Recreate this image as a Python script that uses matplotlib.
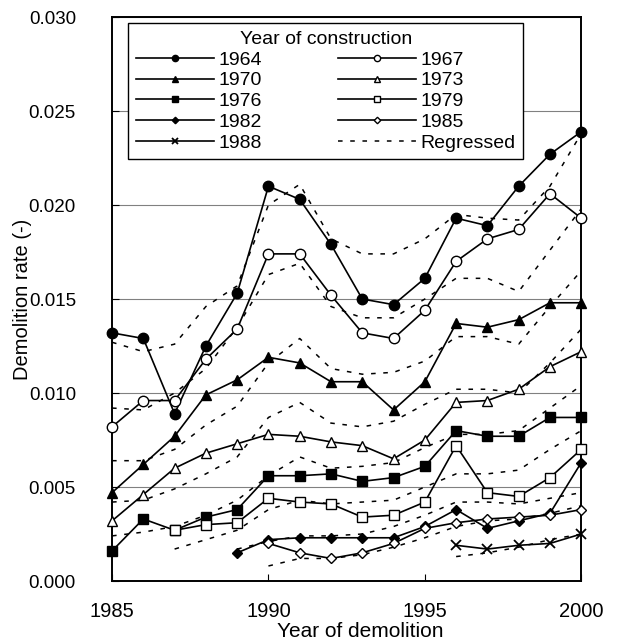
import numpy as np
import matplotlib
matplotlib.use("Agg")
import matplotlib.pyplot as plt

plt.rcParams['font.family'] = ['Liberation Sans', 'DejaVu Sans']

# observed demolition rates by year of construction
r1964 = [0.0132, 0.0129, 0.0089, 0.0125, 0.0153, 0.0210, 0.0203, 0.0179,
         0.0150, 0.0147, 0.0161, 0.0193, 0.0189, 0.0210, 0.0227, 0.0239]
r1967 = [0.0082, 0.0096, 0.0096, 0.0118, 0.0134, 0.0174, 0.0174, 0.0152,
         0.0132, 0.0129, 0.0144, 0.0170, 0.0182, 0.0187, 0.0206, 0.0193]
r1970 = [0.0047, 0.0062, 0.0077, 0.0099, 0.0107, 0.0119, 0.0116, 0.0106,
         0.0106, 0.0091, 0.0106, 0.0137, 0.0135, 0.0139, 0.0148, 0.0148]
r1973 = [0.0032, 0.0046, 0.0060, 0.0068, 0.0073, 0.0078, 0.0077, 0.0074,
         0.0072, 0.0065, 0.0075, 0.0095, 0.0096, 0.0102, 0.0114, 0.0122]
r1976 = [0.0016, 0.0033, 0.0027, 0.0034, 0.0038, 0.0056, 0.0056, 0.0057,
         0.0053, 0.0055, 0.0061, 0.0080, 0.0077, 0.0077, 0.0087, 0.0087]
r1979 = [0.0027, 0.0030, 0.0031, 0.0044, 0.0042, 0.0041,
         0.0034, 0.0035, 0.0042, 0.0072, 0.0047, 0.0045, 0.0055, 0.0070]
r1982 = [0.0015, 0.0022, 0.0023, 0.0023, 0.0023, 0.0023,
         0.0029, 0.0038, 0.0028, 0.0032, 0.0036, 0.0063]
r1985 = [0.0020, 0.0015, 0.0012, 0.0015, 0.0020,
         0.0028, 0.0031, 0.0033, 0.0034, 0.0035, 0.0038]
r1988 = [0.0019, 0.0017, 0.0019, 0.0020, 0.0025]

# regressed curves (all end in 2000)
g1964 = [0.0127, 0.0122, 0.0126, 0.0146, 0.0157, 0.0200, 0.0211, 0.0182,
         0.0174, 0.0174, 0.0182, 0.0195, 0.0193, 0.0192, 0.0210, 0.0238]
g1967 = [0.0092, 0.0091, 0.0100, 0.0113, 0.0135, 0.0163, 0.0169, 0.0146,
         0.0140, 0.0140, 0.0150, 0.0161, 0.0161, 0.0154, 0.0176, 0.0198]
g1970 = [0.0064, 0.0064, 0.0070, 0.0083, 0.0093, 0.0116, 0.0129, 0.0113,
         0.0110, 0.0111, 0.0117, 0.0130, 0.0130, 0.0126, 0.0146, 0.0165]
g1973 = [0.0042, 0.0043, 0.0049, 0.0057, 0.0066, 0.0087, 0.0095, 0.0084,
         0.0082, 0.0085, 0.0094, 0.0102, 0.0102, 0.0100, 0.0116, 0.0134]
g1976 = [0.0024, 0.0026, 0.0029, 0.0035, 0.0043, 0.0056, 0.0066, 0.0060,
         0.0061, 0.0063, 0.0071, 0.0078, 0.0078, 0.0080, 0.0092, 0.0104]
g1979 = [0.0017, 0.0022, 0.0027, 0.0038, 0.0043, 0.0041,
         0.0042, 0.0043, 0.0050, 0.0057, 0.0057, 0.0059, 0.0070, 0.0080]
g1982 = [0.0017, 0.0021, 0.0024, 0.0024, 0.0025, 0.0029,
         0.0035, 0.0042, 0.0042, 0.0041, 0.0044, 0.0047]
g1985 = [0.0008, 0.0012, 0.0012, 0.0014, 0.0018,
         0.0023, 0.0029, 0.0032, 0.0033, 0.0036, 0.0040]
g1988 = [0.0013, 0.0015, 0.0018, 0.0022, 0.0025]

series = [
    ("1964", r1964, g1964, 1985, 'o', 'k'),
    ("1967", r1967, g1967, 1985, 'o', 'w'),
    ("1970", r1970, g1970, 1985, '^', 'k'),
    ("1973", r1973, g1973, 1985, '^', 'w'),
    ("1976", r1976, g1976, 1985, 's', 'k'),
    ("1979", r1979, g1979, 1987, 's', 'w'),
    ("1982", r1982, g1982, 1989, 'D', 'k'),
    ("1985", r1985, g1985, 1990, 'D', 'w'),
    ("1988", r1988, g1988, 1996, 'x', 'k'),
]
msizes = {'o': 7.5, '^': 7.5, 's': 7, 'D': 5.5, 'x': 7.5}

fig = plt.figure(figsize=(6.19, 6.44), dpi=100)
ax = fig.add_axes([0.181, 0.0978, 0.758, 0.8758])

dash = (0, (3, 5))
reg_handle = None
for name, obs, reg, y0, m, fc in series:
    yr_r = np.arange(2001 - len(reg), 2001)
    h, = ax.plot(yr_r, reg, color='k', lw=1.1, ls=dash, zorder=2)
    reg_handle = h

handles = []
for name, obs, reg, y0, m, fc in series:
    yr = np.arange(y0, y0 + len(obs))
    h, = ax.plot(yr, obs, color='k', lw=1.2, marker=m, ms=msizes[m],
                 mfc=fc, mec='k', mew=1.0 if m != 'x' else 1.3, zorder=3,
                 label=name, clip_on=False)
    handles.append(h)

handles.append(reg_handle)
labels = [s[0] for s in series] + ["Regressed"]
# legend fills column-wise: reorder for 2 columns
order = [0, 2, 4, 6, 8, 1, 3, 5, 7, 9]
leg = ax.legend([handles[i] for i in order], [labels[i] for i in order],
                ncol=2, title="Year of construction", loc='upper left',
                bbox_to_anchor=(0.034, 0.989), borderaxespad=0,
                fontsize=14, title_fontsize=14, handlelength=4.0,
                handletextpad=0.25, columnspacing=3.9, labelspacing=0.16,
                markerscale=0.6, fancybox=False, framealpha=1,
                edgecolor='k', borderpad=0.4)
leg.get_frame().set_linewidth(1.0)
leg.set_zorder(5)

ax.set_xlim(1985, 2000)
ax.set_ylim(0, 0.030)
ax.set_xticks([1985, 1990, 1995, 2000])
ax.set_yticks(np.arange(0, 0.0301, 0.005))
ax.yaxis.set_major_formatter(matplotlib.ticker.FormatStrFormatter('%.3f'))
ax.yaxis.grid(True, color='#808080', lw=0.8)
ax.set_axisbelow(True)
ax.tick_params(direction='in', length=5, width=0.8)
ax.tick_params(axis='y', pad=26, labelsize=13.5)
ax.tick_params(axis='x', pad=15, labelsize=14.5)
for sp in ax.spines.values():
    sp.set_linewidth(1.4)

ax.set_xlabel("Year of demolition", fontsize=15)
ax.set_ylabel("Demolition rate (-)", fontsize=14.5)
ax.xaxis.set_label_coords(0.53, -0.072)
ax.yaxis.set_label_coords(-0.17, 0.5)

fig.savefig("out.png", dpi=100)
